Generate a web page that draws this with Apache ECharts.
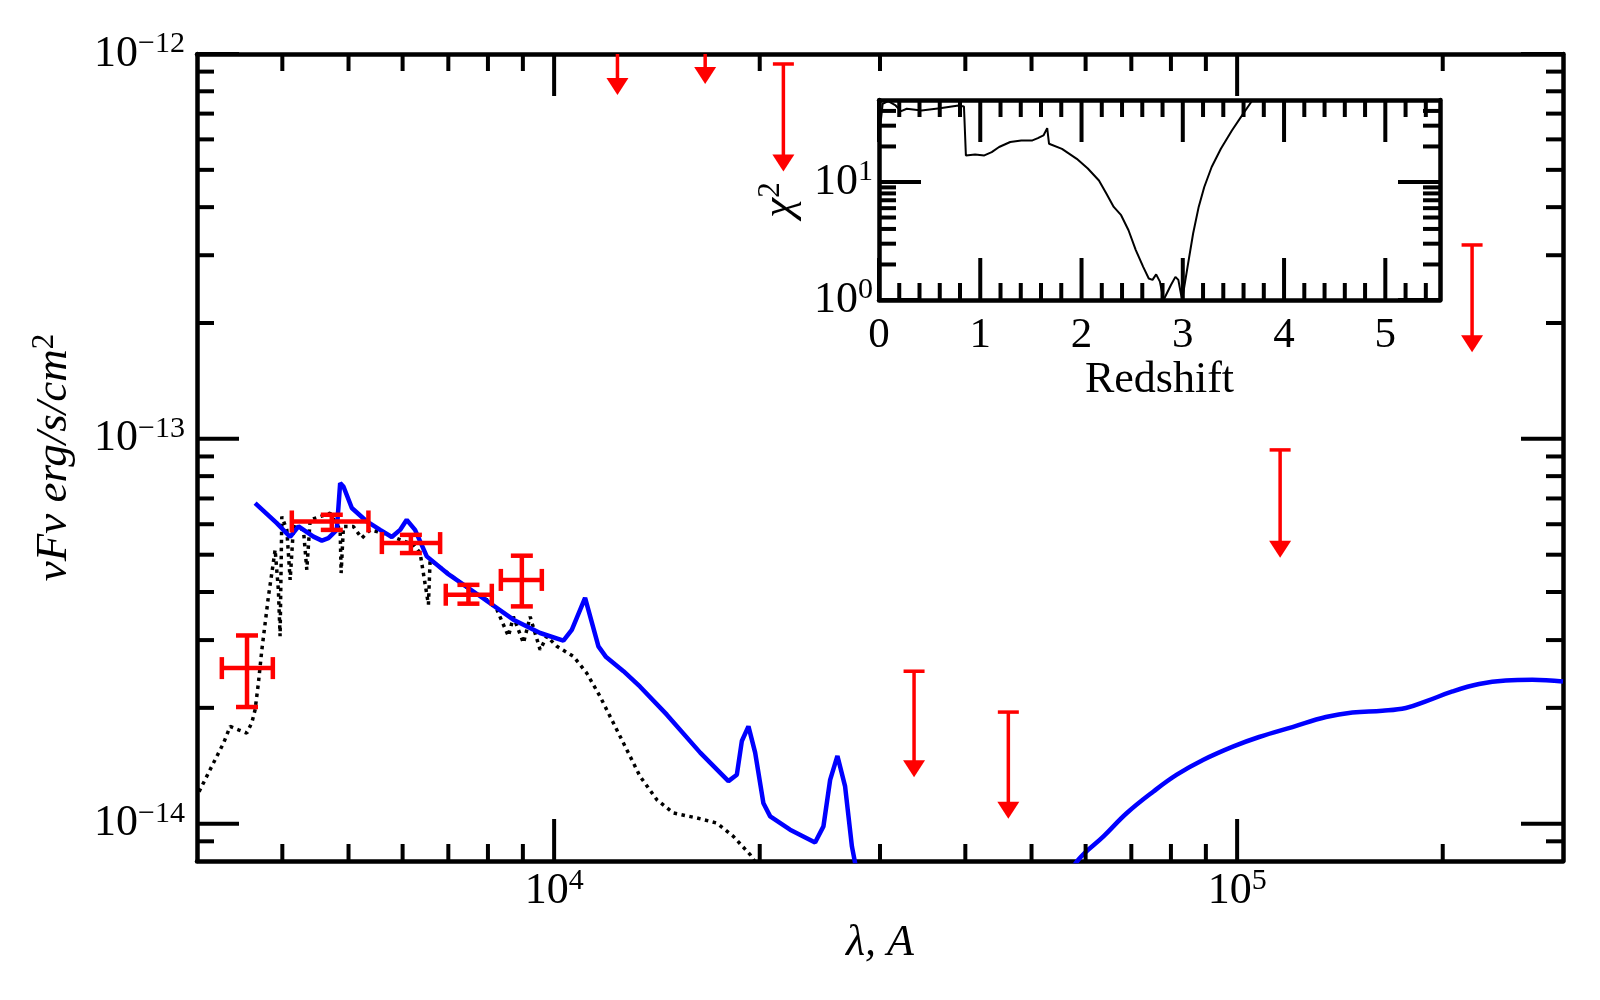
<!DOCTYPE html>
<html>
<head>
<meta charset="utf-8">
<title>SED fit</title>
<script src="https://cdn.jsdelivr.net/npm/echarts@6.0.0/dist/echarts.min.js"></script>
<style>
html,body{margin:0;padding:0;background:#fff;}
#main{width:1600px;height:1000px;}
</style>
</head>
<body>
<div id="main"></div>
<script>
var SERIF='"Liberation Serif","DejaVu Serif",serif';

// model SED (blue), optical part and far-IR part
var blueNearX=[3649,3926,4107,4224,4442,4570,4672,4806,4861,4915,5056,5318,5563,5785,5949,6084,6257,6509,6966,7794,8717,9539,10318,10614,11100,11611,11916,12633,13362,14622,16362,17997,18515,18830,19254,19694,20251,20718,22153,24104,24792,25358,25990,26670,27290,28250];
var blueNearY=[6.81e-14,6.04e-14,5.56e-14,5.92e-14,5.57e-14,5.44e-14,5.52e-14,5.80e-14,7.67e-14,7.52e-14,6.61e-14,6.10e-14,5.80e-14,5.56e-14,5.80e-14,6.16e-14,5.80e-14,4.95e-14,4.48e-14,3.90e-14,3.39e-14,3.13e-14,2.99e-14,3.19e-14,3.86e-14,2.89e-14,2.71e-14,2.49e-14,2.27e-14,1.92e-14,1.53e-14,1.29e-14,1.34e-14,1.64e-14,1.79e-14,1.53e-14,1.13e-14,1.045e-14,9.65e-15,8.94e-15,9.84e-15,1.30e-14,1.50e-14,1.25e-14,8.73e-15,6.35e-15];
var blueFarX=[55070,58550,63730,68950,75430,81600,89270,98770,107700,120500,134900,147500,163200,176600,188900,206700,226100,247400,270600,300000];
var blueFarY=[6.74e-15,8.06e-15,9.27e-15,1.066e-14,1.213e-14,1.341e-14,1.466e-14,1.588e-14,1.68e-14,1.783e-14,1.893e-14,1.946e-14,1.966e-14,1.998e-14,2.079e-14,2.206e-14,2.306e-14,2.356e-14,2.366e-14,2.342e-14];

// template spectrum (black dotted)
var tmplX=[3021,3171,3281,3355,3450,3549,3609,3649,3690,3733,3775,3817,3861,3904,3947,3970,3993,4061,4107,4153,4295,4344,4393,4544,4699,4861,4877,4915,5082,5228,5378,5625,5949,6223,6365,6546,6583,6885,7203,7534,7970,8244,8573,8717,9018,9224,9539,9757,10091,10674,11165,11676,12211,12775,13362,14141,14952,16178,17303,18300,19364,20027];
var tmplY=[1.211e-14,1.438e-14,1.62e-14,1.789e-14,1.754e-14,1.72e-14,1.83e-14,1.977e-14,2.32e-14,2.83e-14,3.32e-14,3.90e-14,4.48e-14,5.15e-14,4.05e-14,3.07e-14,6.28e-14,5.80e-14,4.30e-14,5.92e-14,5.80e-14,4.57e-14,6.16e-14,6.28e-14,6.41e-14,5.80e-14,4.48e-14,5.92e-14,5.92e-14,5.52e-14,5.80e-14,5.69e-14,5.47e-14,5.31e-14,5.05e-14,3.71e-14,4.85e-14,4.57e-14,4.30e-14,4.05e-14,3.82e-14,3.60e-14,3.07e-14,3.45e-14,2.95e-14,3.45e-14,2.83e-14,3.07e-14,2.89e-14,2.72e-14,2.46e-14,2.14e-14,1.827e-14,1.557e-14,1.327e-14,1.154e-14,1.066e-14,1.035e-14,1.004e-14,9.27e-15,8.31e-15,7.60e-15];

// photometry with errors
var photX=[3551,4726,6170,7491,8969];
var photY=[2.537e-14,6.10e-14,5.36e-14,3.935e-14,4.30e-14];
var photXLo=[3262,4130,5595,6940,8356];
var photXHi=[3874,5347,6809,8105,9594];
var photYLo=[2.01e-14,5.80e-14,5.05e-14,3.73e-14,3.67e-14];
var photYHi=[3.084e-14,6.35e-14,5.63e-14,4.175e-14,4.97e-14];

// upper limits: bar top and arrow tip
var limX=[12380,16640,21660,33650,46240,115600,220800];
var limTop=[1.49e-12,1.59e-12,9.42e-13,2.49e-14,1.95e-14,9.36e-14,3.19e-13];
var limTip=[7.82e-13,8.36e-13,4.95e-13,1.32e-14,1.03e-14,4.91e-14,1.68e-13];

// inset: chi2 vs redshift
var zGrid=[0.011,0.036,0.091,0.164,0.219,0.274,0.42,0.602,0.785,0.839,0.858,0.949,1.04,1.113,1.186,1.296,1.405,1.515,1.569,1.624,1.661,1.679,1.807,1.953,2.062,2.172,2.245,2.318,2.391,2.464,2.536,2.609,2.664,2.701,2.737,2.774,2.81,2.828,2.883,2.927,2.956,2.993,3.047,3.102,3.157,3.212,3.285,3.376,3.485,3.595,3.686,3.74];
var chi2=[29.2,45.9,48.4,44.5,39.8,41.7,40.3,42.2,44.5,43.6,16.8,17.1,16.8,17.9,19.8,21.8,22.5,22.5,23.5,24.8,28.6,21.1,19.1,15.7,13.0,10.3,7.97,6.15,5.23,3.90,2.65,1.91,1.52,1.48,1.65,1.43,1.0,1.0,1.34,1.57,1.48,1.0,1.91,3.66,6.15,9.07,13.4,19.1,27.3,37.8,49.0,55];

// tick positions
var lamMajor=[1e4,1e5];
var lamMinor=[4000,5000,6000,7000,8000,9000,20000,30000,40000,50000,60000,70000,80000,90000,200000];
var fluxMajor=[1e-14,1e-13,1e-12];
var fluxMinor=[9e-15,2e-14,3e-14,4e-14,5e-14,6e-14,7e-14,8e-14,9e-14,2e-13,3e-13,4e-13,5e-13,6e-13,7e-13,8e-13,9e-13];
var zMajor=[0,1,2,3,4,5];
var zMinor=[0.2,0.4,0.6,0.8,1.2,1.4,1.6,1.8,2.2,2.4,2.6,2.8,3.2,3.4,3.6,3.8,4.2,4.4,4.6,4.8,5.2,5.4];
var chiMajor=[1,10];
var chiMinor=[2,3,4,5,6,7,8,9,20,30,40];

var MAJ=42,MIN=17;

function zip(a,b){
    var out=[];
    for(var i=0;i<a.length;i++){out.push([a[i],b[i]]);}
    return out;
}
function powLabel(v){
    var l=Math.log10(v);
    var n=Math.round(l);
    if(Math.abs(l-n)>1e-6){return '';}
    return '{b|10}{s|'+String(n).replace('-','\u2212')+'}';
}
var richPow={
    b:{fontFamily:SERIF,fontSize:44,lineHeight:50,color:'#000'},
    s:{fontFamily:SERIF,fontSize:30,lineHeight:22,verticalAlign:'top',color:'#000'}
};
var richName={
    i:{fontFamily:SERIF,fontStyle:'italic',fontSize:45,lineHeight:50,color:'#000'},
    s:{fontFamily:SERIF,fontSize:31,lineHeight:22,verticalAlign:'top',color:'#000'}
};
function frame(){
    return {onZero:false,lineStyle:{color:'#000',width:4.5}};
}
function blank(axis){
    axis.axisLine=frame();
    axis.axisTick={show:false};
    axis.splitLine={show:false};
    if(!axis.axisLabel){axis.axisLabel={show:false};}
    return axis;
}
function ln(x1,y1,x2,y2,w,c){
    return {type:'line',shape:{x1:x1,y1:y1,x2:x2,y2:y2},style:{stroke:c||'#000',lineWidth:w||4}};
}

// ticks drawn inward on both sides of a grid
function xTicks(params,api){
    var cs=params.coordSys;
    var px=api.coord([api.value(0),api.value(1)])[0];
    var len=api.value(2);
    return {type:'group',children:[
        ln(px,cs.y+cs.height,px,cs.y+cs.height-len),
        ln(px,cs.y,px,cs.y+len)
    ]};
}
function yTicks(params,api){
    var cs=params.coordSys;
    var py=api.coord([api.value(0),api.value(1)])[1];
    var len=api.value(2);
    return {type:'group',children:[
        ln(cs.x,py,cs.x+len,py),
        ln(cs.x+cs.width,py,cs.x+cs.width-len,py)
    ]};
}
function tickData(major,minor,other,isX){
    var out=[];
    major.forEach(function(v){out.push(isX?[v,other,MAJ]:[other,v,MAJ]);});
    minor.forEach(function(v){out.push(isX?[v,other,MIN]:[other,v,MIN]);});
    return out;
}

function errBars(params,api){
    var c=api.coord([api.value(0),api.value(1)]);
    var l=api.coord([api.value(2),api.value(1)]);
    var r=api.coord([api.value(3),api.value(1)]);
    var b=api.coord([api.value(0),api.value(4)]);
    var t=api.coord([api.value(0),api.value(5)]);
    var cap=11,red='#ff0000',w=4.5;
    return {type:'group',children:[
        ln(l[0],c[1],r[0],c[1],w,red),
        ln(c[0],b[1],c[0],t[1],w,red),
        ln(l[0],c[1]-cap,l[0],c[1]+cap,w,red),
        ln(r[0],c[1]-cap,r[0],c[1]+cap,w,red),
        ln(c[0]-cap,b[1],c[0]+cap,b[1],w,red),
        ln(c[0]-cap,t[1],c[0]+cap,t[1],w,red)
    ]};
}
function upperLims(params,api){
    var p=api.coord([api.value(0),api.value(1)]);
    var q=api.coord([api.value(0),api.value(2)]);
    var red='#ff0000',hh=17,hw=11;
    return {type:'group',children:[
        ln(p[0]-10.5,p[1],p[0]+10.5,p[1],3.5,red),
        ln(p[0],p[1],p[0],q[1]-hh+2,3.5,red),
        {type:'polygon',shape:{points:[[q[0]-hw,q[1]-hh],[q[0]+hw,q[1]-hh],[q[0],q[1]]]},style:{fill:red}}
    ]};
}

var phot=[];
for(var i=0;i<photX.length;i++){
    phot.push([photX[i],photY[i],photXLo[i],photXHi[i],photYLo[i],photYHi[i]]);
}
var lims=[];
for(var j=0;j<limX.length;j++){
    lims.push([limX[j],limTop[j],limTip[j]]);
}

var chart=echarts.init(document.getElementById('main'));
var option={
    animation:false,
    backgroundColor:'#fff',
    grid:[
        {left:197,top:54,width:1366,height:807},
        {left:879,top:100,width:561,height:200}
    ],
    xAxis:[
        blank({gridIndex:0,type:'log',logBase:10,min:3000,max:300000,position:'bottom',
            axisLabel:{formatter:powLabel,margin:5,rich:richPow},
            name:'\u03bb, A',nameLocation:'middle',nameGap:60,
            nameTextStyle:{fontFamily:SERIF,fontStyle:'italic',fontSize:44,color:'#000'}}),
        blank({gridIndex:0,type:'log',logBase:10,min:3000,max:300000,position:'top'}),
        blank({gridIndex:1,type:'value',min:0,max:5.54,interval:1,position:'bottom',
            axisLabel:{margin:14,fontFamily:SERIF,fontSize:43,color:'#000',
                formatter:function(v){return Math.abs(v-Math.round(v))<1e-6?String(Math.round(v)):'';}},
            name:'Redshift',nameLocation:'middle',nameGap:58,
            nameTextStyle:{fontFamily:SERIF,fontSize:44,color:'#000'}}),
        blank({gridIndex:1,type:'value',min:0,max:5.54,position:'top'})
    ],
    yAxis:[
        blank({gridIndex:0,type:'log',logBase:10,min:8e-15,max:1e-12,position:'left',
            axisLabel:{formatter:powLabel,margin:12,rich:richPow},
            name:'{i|\u03bdF\u03bd erg/s/cm}{s|2}',nameLocation:'middle',nameRotate:90,nameGap:118,
            nameTextStyle:{rich:richName}}),
        blank({gridIndex:0,type:'log',logBase:10,min:8e-15,max:1e-12,position:'right'}),
        blank({gridIndex:1,type:'log',logBase:10,min:1,max:49.5,position:'left',
            axisLabel:{formatter:powLabel,margin:6,rich:richPow},
            name:'{i|\u03c7}{s|2}',nameLocation:'middle',nameRotate:90,nameGap:74,
            nameTextStyle:{rich:richName}}),
        blank({gridIndex:1,type:'log',logBase:10,min:1,max:49.5,position:'right'})
    ],
    series:[
        {type:'line',xAxisIndex:0,yAxisIndex:0,data:zip(tmplX,tmplY),symbol:'none',clip:true,z:2,
            lineStyle:{color:'#000',width:3.5,type:[3.5,4.5]}},
        {type:'line',xAxisIndex:0,yAxisIndex:0,data:zip(blueNearX,blueNearY),symbol:'none',clip:true,z:3,
            lineStyle:{color:'#0000ff',width:4.5}},
        {type:'line',xAxisIndex:0,yAxisIndex:0,data:zip(blueFarX,blueFarY),symbol:'none',clip:true,z:3,smooth:0.4,
            lineStyle:{color:'#0000ff',width:4.5}},
        {type:'custom',xAxisIndex:0,yAxisIndex:0,data:phot,renderItem:errBars,z:5},
        {type:'custom',xAxisIndex:0,yAxisIndex:0,data:lims,renderItem:upperLims,clip:true,z:5},
        {type:'line',xAxisIndex:2,yAxisIndex:2,data:zip(zGrid,chi2),symbol:'none',clip:true,z:3,
            lineStyle:{color:'#000',width:2}},
        {type:'custom',xAxisIndex:0,yAxisIndex:0,data:tickData(lamMajor,lamMinor,1e-13,true),renderItem:xTicks,z:10},
        {type:'custom',xAxisIndex:0,yAxisIndex:0,data:tickData(fluxMajor,fluxMinor,5000,false),renderItem:yTicks,z:10},
        {type:'custom',xAxisIndex:2,yAxisIndex:2,data:tickData(zMajor,zMinor,5,true),renderItem:xTicks,z:10},
        {type:'custom',xAxisIndex:2,yAxisIndex:2,data:tickData(chiMajor,chiMinor,1,false),renderItem:yTicks,z:10}
    ]
};
chart.setOption(option);
</script>
</body>
</html>
